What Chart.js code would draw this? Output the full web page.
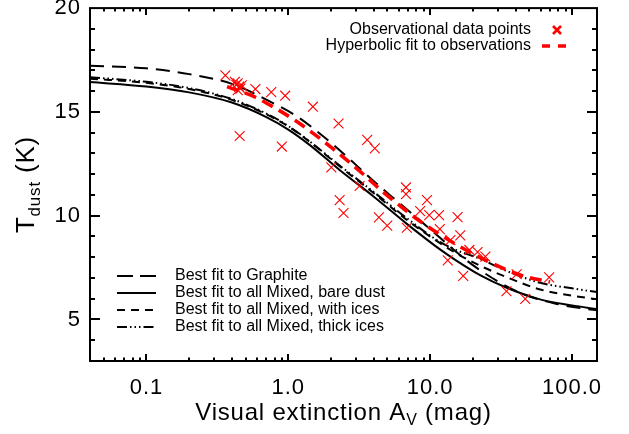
<!DOCTYPE html>
<html><head><meta charset="utf-8">
<script src="https://cdn.jsdelivr.net/npm/chart.js@4/dist/chart.umd.min.js"></script>
<style>html,body{margin:0;padding:0;background:#fff;}#wrap{width:629px;height:434px;position:relative;}</style>
</head><body><div id="wrap"><canvas id="c" width="629" height="434"></canvas></div>
<script>
// ---- tick labels ----
const xTickValues = [0.1, 1, 10, 100];
const xTickLabels = ['0.1', '1.0', '10.0', '100.0'];
const yTickValues = [5, 10, 15, 20];
const yTickLabels = ['5', '10', '15', '20'];

// ---- observational data points (A_V, T_dust) ----
const obsAv = [0.36,0.43,0.42,0.44,0.45,0.46,0.44,0.47,0.454,0.586,0.758,0.95,0.90,1.49,2.26,3.6,4.07,2.01,3.18,2.30,2.45,4.35,4.98,6.75,6.75,9.5,8.5,9.85,11.55,15.6,6.85,11.7,16.3,13.9,18.9,21.6,13.3,17.1,24.5,34.5,46.8,69,40.7];
const obsT  = [16.76,16.30,16.45,16.38,16.22,16.12,16.05,16.28,13.84,16.10,15.95,15.78,13.33,15.25,14.44,13.65,13.24,12.33,11.43,10.75,10.13,9.92,9.52,11.36,11.04,10.75,10.22,10.03,10.03,9.93,9.42,9.35,9.05,8.82,8.35,8.25,7.85,7.10,8.03,6.36,5.99,7.03,7.18];

// ---- hyperbolic fit to observations ----
const fitAv = [0.37,0.58,0.8,1.14,1.49,2.0,2.7,3.53,4.6,6.2,8.4,15.2,24.7,42,70];
const fitT  = [16.22,15.72,15.2,14.55,13.98,13.3,12.57,11.88,11.17,10.45,9.75,8.62,7.85,7.17,6.8];

// ---- model curves ----
const graphiteAv = [0.04,0.1,0.2,0.4,0.82,1.14,1.53,2.06,2.7,3.53,4.6,6.0,10,15,20,31,47,78,125,150];
const graphiteT  = [17.22,17.1,16.82,16.35,15.35,14.8,14.16,13.44,12.73,12.0,11.3,10.64,9.35,8.3,7.62,6.78,6.18,5.75,5.51,5.45];
const mixedAv    = [0.04,0.1,0.2,0.4,0.7,1.0,1.42,2.3,3.95,6.78,11.6,15.2,22.3,34.3,58.6,100,150];
const bareT      = [16.44,16.22,15.94,15.45,14.75,14.15,13.4,12.2,10.95,9.63,8.4,7.85,7.15,6.54,5.98,5.68,5.5];
const icesT      = [16.6,16.4,16.1,15.58,14.88,14.3,13.55,12.38,11.12,9.82,8.7,8.2,7.6,7.05,6.46,6.15,5.97];
const thickT     = [16.67,16.45,16.15,15.62,14.92,14.32,13.57,12.42,11.17,9.9,8.75,8.35,7.93,7.35,6.78,6.5,6.32];

const seriesNames = ['Observational data points','Hyperbolic fit to observations','Best fit to Graphite','Best fit to all Mixed, bare dust','Best fit to all Mixed, with ices','Best fit to all Mixed, thick ices'];

const pts = (xs, ys) => xs.map((x, i) => ({x: x, y: ys[i]}));
const RED = '#ff0000';
const FONT = '"Liberation Sans", Arial, Helvetica, sans-serif';

const dashGraphite = [14, 8];
const dashIces = [8, 6];
const dashThick = [10, 3, 1.5, 3, 1.5, 3, 1.5, 3];
const dashFit = [12, 7];

function curve(label, data, dash, color, width) {
  return {label, data, showLine: true, borderColor: color, backgroundColor: color, borderWidth: width,
    borderDash: dash, pointRadius: 0, pointHoverRadius: 0, cubicInterpolationMode: 'monotone', fill: false};
}

const frameLegend = {
  id: 'frameLegend',
  beforeDraw(chart) { chart.ctx.letterSpacing = '1px'; },
  afterDraw(chart) {
    const ctx = chart.ctx, a = chart.chartArea;
    const xs = chart.scales.x, ys = chart.scales.y;
    ctx.save();
    ctx.letterSpacing = '0px';
    ctx.strokeStyle = '#000';
    ctx.setLineDash([]);
    ctx.lineWidth = 2;
    ctx.strokeRect(a.left, a.top, a.right - a.left, a.bottom - a.top);
    ctx.beginPath();
    for (let v = 4; v <= 19; v++) {
      const p = Math.round(ys.getPixelForValue(v));
      const len = (v % 5 === 0) ? 10 : 5;
      ctx.moveTo(a.left, p); ctx.lineTo(a.left + len, p);
      ctx.moveTo(a.right, p); ctx.lineTo(a.right - len, p);
    }
    ctx.stroke();
    ctx.beginPath();
    for (let d = -2; d <= 2; d++) {
      for (let m = 1; m <= 9; m++) {
        const v = m * Math.pow(10, d);
        if (v < xs.min || v > xs.max) continue;
        const p = Math.round(xs.getPixelForValue(v));
        const len = (m === 1) ? 7 : 3.5;
        ctx.moveTo(p, a.bottom); ctx.lineTo(p, a.bottom - len);
        ctx.moveTo(p, a.top); ctx.lineTo(p, a.top + len);
      }
    }
    ctx.stroke();

    // axis titles
    ctx.fillStyle = '#000';
    ctx.textBaseline = 'alphabetic';
    ctx.letterSpacing = '0.8px';
    const main = 'Visual extinction A', sub = 'V', tail = ' (mag)';
    const f1 = '24px ' + FONT, f2 = '16px ' + FONT;
    ctx.font = f1; const w1 = ctx.measureText(main).width, w3 = ctx.measureText(tail).width;
    ctx.font = f2; const w2 = ctx.measureText(sub).width;
    let x0 = (a.left + a.right) / 2 - (w1 + w2 + w3) / 2;
    const by = 420;
    ctx.textAlign = 'left';
    ctx.font = f1; ctx.fillText(main, x0, by);
    ctx.font = f2; ctx.fillText(sub, x0 + w1, by + 5);
    ctx.font = f1; ctx.fillText(tail, x0 + w1 + w2, by);

    ctx.save();
    ctx.translate(34, (a.top + a.bottom) / 2);
    ctx.rotate(-Math.PI / 2);
    const g1 = '26px ' + FONT, g2 = '17px ' + FONT;
    const ym = 'T', ysb = 'dust', yt = ' (K)';
    ctx.font = g1; const v1 = ctx.measureText(ym).width, v3 = ctx.measureText(yt).width;
    ctx.font = g2; const v2 = ctx.measureText(ysb).width;
    let s0 = -(v1 + v2 + v3) / 2;
    ctx.font = g1; ctx.fillText(ym, s0, 0);
    ctx.font = g2; ctx.fillText(ysb, s0 + v1, 6);
    ctx.font = g1; ctx.fillText(yt, s0 + v1 + v2, 0);
    ctx.restore();

    // legends
    ctx.letterSpacing = '0px';
    ctx.font = '16px ' + FONT;
    ctx.textBaseline = 'middle';
    ctx.textAlign = 'right';
    const ds = chart.data.datasets;
    ctx.fillText(ds[0].label, 531, 30);
    ctx.fillText(ds[1].label, 531, 46);
    ctx.strokeStyle = RED; ctx.lineWidth = 2.6; ctx.setLineDash([]);
    ctx.beginPath();
    ctx.moveTo(553, 26); ctx.lineTo(561, 34);
    ctx.moveTo(561, 26); ctx.lineTo(553, 34);
    ctx.stroke();
    ctx.lineWidth = 3.5; ctx.setLineDash([8, 8]);
    ctx.beginPath(); ctx.moveTo(542, 46); ctx.lineTo(567, 46); ctx.stroke();

    ctx.textAlign = 'left';
    const rows = [276, 293, 310, 327];
    for (let i = 0; i < 4; i++) {
      const d = ds[i + 2];
      ctx.strokeStyle = '#000'; ctx.lineWidth = 2.2;
      ctx.setLineDash(i === 0 ? [16, 7] : (d.borderDash || []));
      ctx.beginPath(); ctx.moveTo(117, rows[i]); ctx.lineTo(156, rows[i]); ctx.stroke();
      ctx.fillStyle = '#000';
      ctx.fillText(d.label, 175, rows[i]);
    }
    ctx.restore();
  }
};

new Chart(document.getElementById('c'), {
  type: 'scatter',
  data: {
    datasets: [
      {label: seriesNames[0], data: pts(obsAv, obsT), showLine: false, pointStyle: 'crossRot', pointRadius: 7,
        pointBorderWidth: 1.1, borderColor: RED, backgroundColor: RED, pointHoverRadius: 7},
      curve(seriesNames[1], pts(fitAv, fitT), dashFit, RED, 3.6),
      curve(seriesNames[2], pts(graphiteAv, graphiteT), dashGraphite, '#000', 2),
      curve(seriesNames[3], pts(mixedAv, bareT), [], '#000', 2),
      curve(seriesNames[4], pts(mixedAv, icesT), dashIces, '#000', 2),
      curve(seriesNames[5], pts(mixedAv, thickT), dashThick, '#000', 2)
    ]
  },
  options: {
    responsive: false, animation: false, devicePixelRatio: 1,
    layout: {padding: {top: 4, right: 32, left: 0, bottom: 0}},
    plugins: {legend: {display: false}, tooltip: {enabled: false}, title: {display: false}},
    scales: {
      x: {
        type: 'logarithmic', min: 0.04, max: 150,
        grid: {display: false, drawTicks: false}, border: {display: false},
        title: {display: false},
        afterBuildTicks: (s) => { s.ticks = xTickValues.map(v => ({value: v, major: true})); },
        afterFit: (s) => { s.height = 73; s.paddingLeft = 0; s.paddingRight = 0; },
        ticks: {autoSkip: false, maxRotation: 0, padding: 14, color: '#000',
          font: {family: FONT, size: 22},
          callback: (v, i) => xTickLabels[i]}
      },
      y: {
        type: 'linear', min: 3, max: 20,
        grid: {display: false, drawTicks: false}, border: {display: false},
        title: {display: false},
        afterBuildTicks: (s) => { s.ticks = yTickValues.map(v => ({value: v})); },
        afterFit: (s) => { s.width = 90; s.paddingTop = 0; s.paddingBottom = 0; },
        ticks: {autoSkip: false, padding: 9, color: '#000',
          font: {family: FONT, size: 22},
          callback: (v, i) => yTickLabels[i]}
      }
    }
  },
  plugins: [frameLegend]
});
</script>
</body></html>
